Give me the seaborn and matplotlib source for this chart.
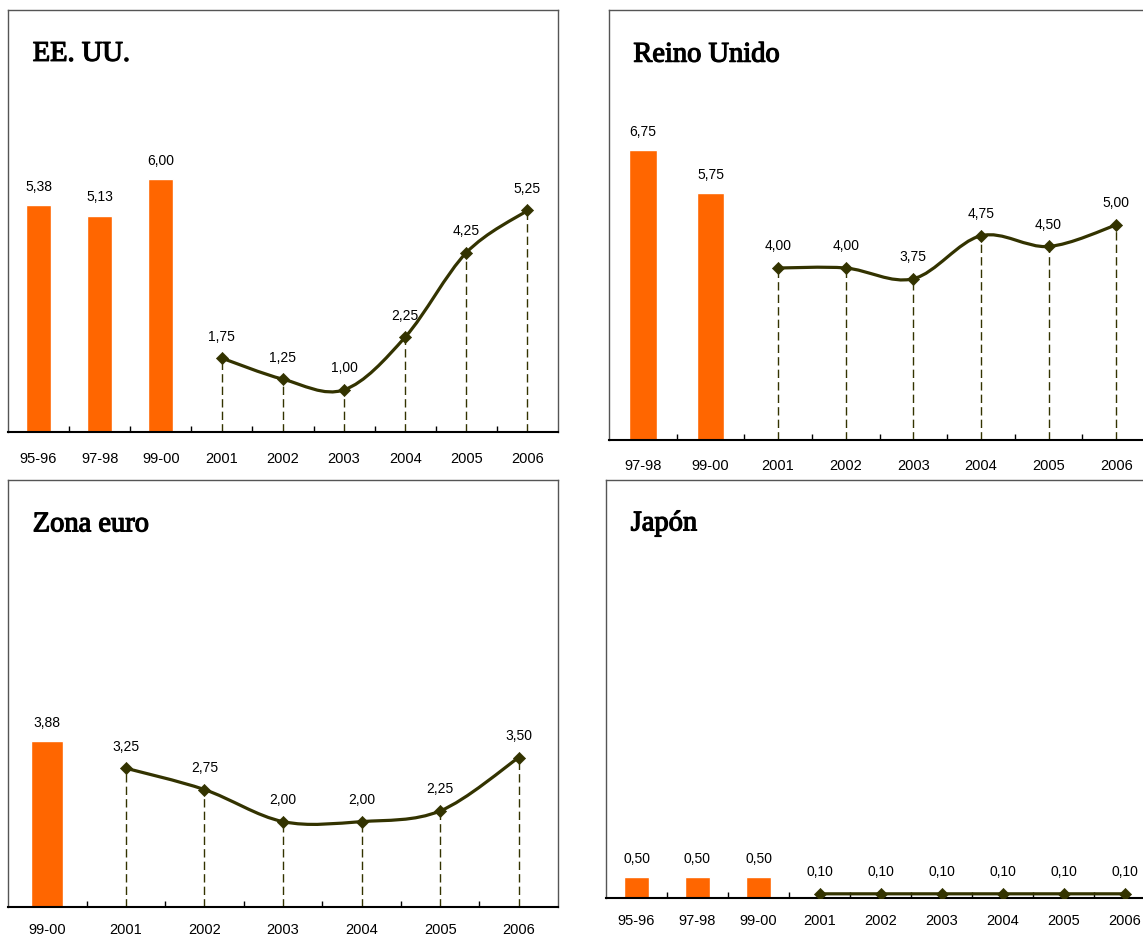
import numpy as np
import pandas as pd
import matplotlib
matplotlib.use("Agg")
import matplotlib.pyplot as plt
import matplotlib.patheffects as pe
from matplotlib.path import Path
from matplotlib.patches import PathPatch
import seaborn as sns

sns.set_theme(style="white")
plt.rcParams["font.family"] = ["Liberation Sans", "DejaVu Sans"]
plt.rcParams["text.color"] = "black"

# data (policy rates, %)
us_cats = ["95-96", "97-98", "99-00", "2001", "2002", "2003", "2004", "2005", "2006"]
us_bars = [5.38, 5.13, 6.00]
us_line = [1.75, 1.25, 1.00, 2.25, 4.25, 5.25]

uk_cats = ["97-98", "99-00", "2001", "2002", "2003", "2004", "2005", "2006"]
uk_bars = [6.75, 5.75]
uk_line = [4.00, 4.00, 3.75, 4.75, 4.50, 5.00]

ez_cats = ["99-00", "2001", "2002", "2003", "2004", "2005", "2006"]
ez_bars = [3.88]
ez_line = [3.25, 2.75, 2.00, 2.00, 2.25, 3.50]

jp_cats = ["95-96", "97-98", "99-00", "2001", "2002", "2003", "2004", "2005", "2006"]
jp_bars = [0.50, 0.50, 0.50]
jp_line = [0.10, 0.10, 0.10, 0.10, 0.10, 0.10]

titles = ["EE. UU.", "Reino Unido", "Zona euro", "Japón"]

BAR_COLOR = "#FF6600"
LINE_COLOR = "#333300"


def fmt(v):
    return f"{v:.2f}".replace(".", ",")


def smooth_path(xs, ys):
    # Excel-like smoothed line drawn as cubic Bezier segments
    pts = np.column_stack([xs, ys]).astype(float)
    ext = np.vstack([pts[0], pts, pts[-1]])
    verts = [pts[0]]
    codes = [Path.MOVETO]
    for i in range(len(pts) - 1):
        p0, p1, p2, p3 = ext[i], ext[i + 1], ext[i + 2], ext[i + 3]
        c1 = p1 + (p2 - p0) / 6
        c2 = p2 - (p3 - p1) / 6
        verts += [c1, c2, p2]
        codes += [Path.CURVE4] * 3
    return Path(verts, codes)


def panel(ax, cats, bars, line, title, pad):
    n = len(cats)
    bar_df = pd.DataFrame({"cat": cats[:len(bars)], "val": bars})
    sns.barplot(data=bar_df, x="cat", y="val", order=cats, color=BAR_COLOR,
                saturation=1, width=0.41, errorbar=None, ax=ax)

    line_x = np.arange(n - len(line), n)
    ax.vlines(line_x, 0, line, colors=LINE_COLOR, linewidth=1,
              linestyles=(0, (6, 3)), zorder=2)
    ax.add_patch(PathPatch(smooth_path(line_x, line), fill=False,
                           edgecolor=LINE_COLOR, linewidth=2.3, zorder=3))
    sns.scatterplot(x=line_x, y=line, marker="D", s=38, color=LINE_COLOR,
                    edgecolor=LINE_COLOR, linewidth=0.5, zorder=4, ax=ax)

    for i, v in enumerate(bars):
        ax.annotate(fmt(v), (i, v), xytext=(0, 13), textcoords="offset points",
                    ha="center", va="center", fontsize=10)
    for x, v in zip(line_x, line):
        ax.annotate(fmt(v), (x, v), xytext=(0, 15.5), textcoords="offset points",
                    ha="center", va="center", fontsize=10)

    ax.set_xlim(-0.5, n - 0.5)
    ax.set_ylim(0, 10)
    ax.set_xlabel("")
    ax.set_ylabel("")
    ax.set_yticks([])
    ax.set_xticks(range(n))
    ax.set_xticklabels(cats)
    ax.set_xticks(np.arange(n - 1) + 0.5, minor=True)
    ax.tick_params(axis="x", which="major", length=0, pad=pad, labelsize=10.5,
                   colors="black")
    ax.tick_params(axis="x", which="minor", direction="in", length=4,
                   width=1, color="black", bottom=True)
    for side in ["top", "left", "right"]:
        ax.spines[side].set_color("#555555")
        ax.spines[side].set_linewidth(1)
    ax.spines["bottom"].set_color("black")
    ax.spines["bottom"].set_linewidth(1.5)

    ax.text(0.045, 0.895, title, transform=ax.transAxes, ha="left", va="center",
            fontsize=20.5, family="Liberation Serif", color="black",
            path_effects=[pe.withStroke(linewidth=0.9, foreground="black")])


W, H = 1143, 938
fig = plt.figure(figsize=(W / 100, H / 100), dpi=100)

# axes boxes in pixels: left, top, right, baseline
boxes = [(8, 10, 558, 432), (609, 10, 1150, 440),
         (8, 480, 558, 907), (606, 480, 1155, 898)]
pads = [14.5, 14, 11.5, 11.5]
data = [(us_cats, us_bars, us_line), (uk_cats, uk_bars, uk_line),
        (ez_cats, ez_bars, ez_line), (jp_cats, jp_bars, jp_line)]

for (l, t, r, b), (cats, bars, line), title, pad in zip(boxes, data, titles, pads):
    ax = fig.add_axes([l / W, 1 - b / H, (r - l) / W, (b - t) / H])
    panel(ax, cats, bars, line, title, pad)

fig.savefig("out.png", dpi=100)
